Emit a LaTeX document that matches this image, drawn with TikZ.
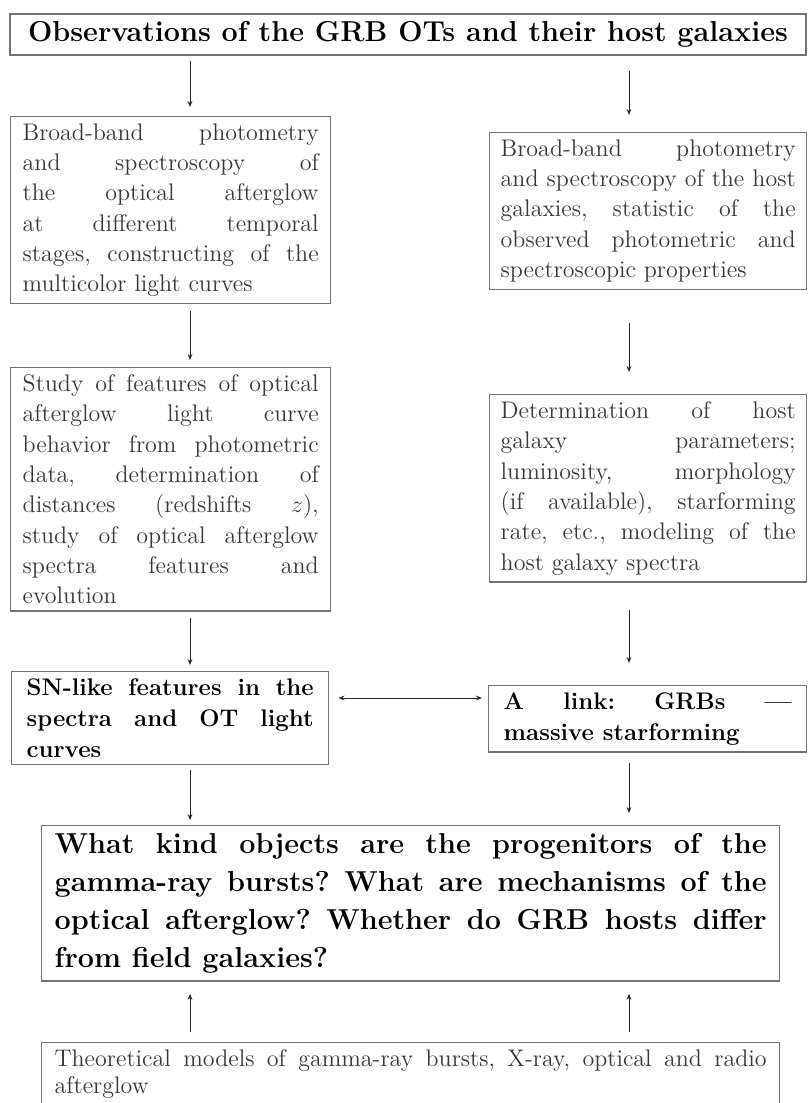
\documentclass[tikz,border=0pt]{standalone}
\usetikzlibrary{arrows.meta}
\newcommand\myparset{\tolerance=9999 \hyphenpenalty=10000 \exhyphenpenalty=10000 \frenchspacing\relax}
\begin{document}
\begin{tikzpicture}[x=0.5pt,y=-0.5pt,
  box/.style={draw=black!55, line width=0.7pt, anchor=north west, align=justify, inner ysep=3.5pt},
  normtext/.style={text=black!78, font=\fontsize{12}{15.15}\selectfont\myparset},
  boldtext/.style={text=black, font=\fontsize{12}{15.4}\selectfont\bfseries\myparset},
  bigtext/.style={text=black, font=\fontsize{14.4}{18.9}\selectfont\bfseries\myparset},
  lbox/.style={box, normtext, text width=148pt, inner xsep=6pt},
  rbox/.style={box, normtext, text width=147.5pt, inner xsep=5.5pt},
  arr/.style={-{Stealth[length=3pt,width=2.4pt]}, line width=0.5pt, black!85},
  darr/.style={{Stealth[length=3pt,width=2.4pt]}-{Stealth[length=3pt,width=2.4pt]}, line width=0.5pt, black!85}
]
\useasboundingbox (0,0) rectangle (808,1103);
\clip (0,0) rectangle (808,1103);

\coordinate (cl) at (190,0);
\coordinate (cr) at (629,0);
\coordinate (mid) at (0,698);

\node[draw=black!55, line width=0.7pt, minimum width=398pt, minimum height=20.5pt, inner sep=0pt,
      font=\fontsize{14.4}{17}\selectfont\bfseries] (top) at (408,34.5)
  {Observations of the GRB OTs and their host galaxies};

\node[lbox] (L1) at (10,116)
  {Broad-band photometry\linebreak and spectroscopy of\linebreak the optical afterglow\linebreak at different temporal\linebreak stages, constructing of the\linebreak multicolor light curves};

\node[rbox] (R1) at (489,132)
  {Broad-band photometry\linebreak and spectroscopy of the host\linebreak galaxies, statistic of the\linebreak observed photometric and\linebreak spectroscopic properties};

\node[lbox] (L2) at (10,367)
  {Study of features of optical\linebreak afterglow light curve\linebreak behavior from photometric\linebreak data, determination of\linebreak distances (redshifts $z$),\linebreak study of optical afterglow\linebreak spectra features and\linebreak evolution};

\node[rbox] (R2) at (489,394)
  {Determination of host\linebreak galaxy parameters;\linebreak luminosity, morphology\linebreak (if available), starforming\linebreak rate, etc., modeling of the\linebreak host galaxy spectra};

\node[box, boldtext, text width=143.5pt, inner xsep=7.5pt] (L3) at (11,671)
  {SN-like features in the\linebreak spectra and OT light\linebreak curves};

\node[box, boldtext, text width=144pt, inner xsep=7.5pt] (R3) at (488,685)
  {A link: GRBs ---\linebreak massive starforming};

\node[box, bigtext, text width=356pt, inner xsep=6.5pt, inner ysep=4pt] (Q) at (41,825)
  {What kind objects are the progenitors of the\linebreak gamma-ray bursts? What are mechanisms of the\linebreak optical afterglow? Whether do GRB hosts differ\linebreak from field galaxies?};

\node[box, text=black!78, font=\fontsize{12}{13.5}\selectfont\myparset,
      text width=356pt, inner xsep=6.5pt] (T) at (41,1042)
  {Theoretical models of gamma-ray bursts, X-ray, optical and radio\linebreak afterglow\rule[-9pt]{0pt}{0pt}};

% arrows
\draw[arr, shorten <=2.5pt, shorten >=4.5pt] (top.south -| cl) -- (L1.north -| cl);
\draw[arr, shorten <=7.5pt, shorten >=8.5pt] (top.south -| cr) -- (R1.north -| cr);
\draw[arr, shorten <=3.5pt, shorten >=3.5pt] (L1.south -| cl) -- (L2.north -| cl);
\draw[arr, shorten <=16.5pt, shorten >=11pt] (R1.south -| cr) -- (R2.north -| cr);
\draw[arr, shorten <=3pt, shorten >=3pt] (L2.south -| cl) -- (L3.north -| cl);
\draw[arr, shorten <=13.5pt, shorten >=11pt] (R2.south -| cr) -- (R3.north -| cr);
\draw[arr, shorten <=2.5pt, shorten >=2.5pt] (L3.south -| cl) -- (Q.north -| cl);
\draw[arr, shorten <=5pt, shorten >=6pt] (R3.south -| cr) -- (Q.north -| cr);
\draw[darr, shorten <=4.5pt, shorten >=3pt] (L3.east |- mid) -- (R3.west |- mid);
\draw[arr, shorten <=5pt, shorten >=6pt] (T.north -| cl) -- (Q.south -| cl);
\draw[arr, shorten <=5pt, shorten >=6pt] (T.north -| cr) -- (Q.south -| cr);
\end{tikzpicture}
\end{document}
